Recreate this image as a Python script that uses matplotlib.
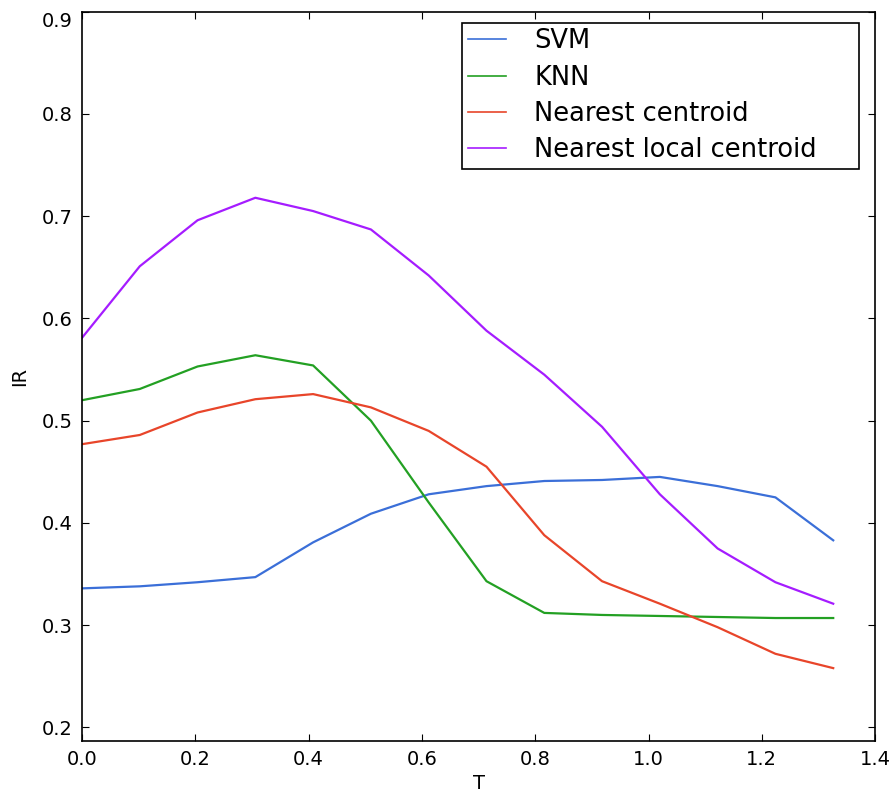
import matplotlib
matplotlib.use("Agg")
import matplotlib.pyplot as plt

T = [0.0, 0.102, 0.204, 0.306, 0.408, 0.510, 0.612, 0.714, 0.816, 0.918, 1.020, 1.122, 1.224, 1.326]
svm = [0.336, 0.338, 0.342, 0.347, 0.381, 0.409, 0.428, 0.436, 0.441, 0.442, 0.445, 0.436, 0.425, 0.383]
knn = [0.520, 0.531, 0.553, 0.564, 0.554, 0.500, 0.420, 0.343, 0.312, 0.310, 0.309, 0.308, 0.307, 0.307]
nc = [0.477, 0.486, 0.508, 0.521, 0.526, 0.513, 0.490, 0.455, 0.388, 0.343, 0.321, 0.298, 0.272, 0.258]
nlc = [0.581, 0.651, 0.696, 0.718, 0.705, 0.687, 0.642, 0.588, 0.545, 0.494, 0.428, 0.375, 0.342, 0.321]

series = [
    ("SVM", svm, "#3b6fd8"),
    ("KNN", knn, "#23a023"),
    ("Nearest centroid", nc, "#e8452a"),
    ("Nearest local centroid", nlc, "#a51cff"),
]

plt.rcParams['font.family'] = ['DejaVu Sans']
fig = plt.figure(figsize=(8.93, 7.94), dpi=100)
ax = fig.add_axes([0.0918, 0.0671, 0.8882, 0.9182])

for name, vals, col in series:
    ax.plot(T, vals, color=col, lw=1.6, label=name)

ax.set_xlim(0, 1.4)
ax.set_ylim(0.187, 0.9)
ax.set_xticks([0.0, 0.2, 0.4, 0.6, 0.8, 1.0, 1.2, 1.4])
ax.set_yticks([0.2, 0.3, 0.4, 0.5, 0.6, 0.7, 0.8, 0.9])
ax.tick_params(direction='in', top=True, right=True, labelsize=14, length=5, width=0.8, pad=7)
ax.set_xlabel("T", fontsize=14, labelpad=3)
ax.set_ylabel("IR", fontsize=14, labelpad=9)
for s in ax.spines.values():
    s.set_linewidth(1.2)
fig.canvas.draw()
labs = ax.get_yticklabels()
labs[-1].set_verticalalignment('top')

leg = ax.legend(loc='upper right', bbox_to_anchor=(0.479, 0.5, 0.501, 0.485), mode='expand',
                borderaxespad=0, fontsize=18.5, frameon=True, fancybox=False,
                edgecolor='black', framealpha=1, handlelength=1.5, handletextpad=1.1,
                labelspacing=0.4, borderpad=0.22)
leg.get_frame().set_linewidth(1.2)
for h in leg.get_lines():
    h.set_linewidth(1.2)

fig.savefig("out.png", dpi=100)
